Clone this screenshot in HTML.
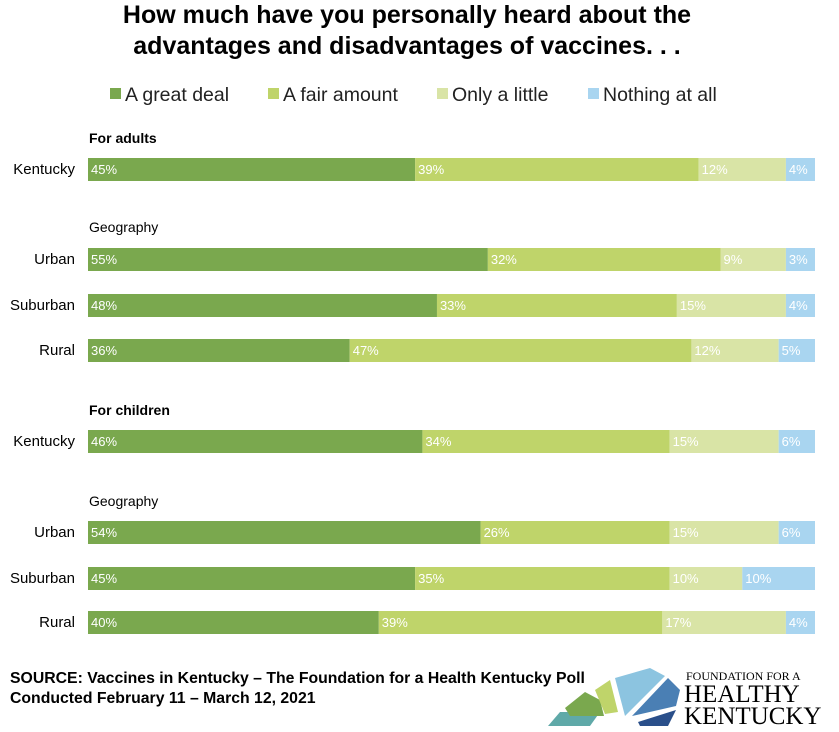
<!DOCTYPE html>
<html><head><meta charset="utf-8"><style>
body{margin:0;background:#fff;font-family:"Liberation Sans",sans-serif;}
#c{position:relative;width:839px;height:732px;overflow:hidden;}
</style></head><body>
<div id="c">
<svg id="s" width="839" height="732">
<text x="407" y="23" text-anchor="middle" font-size="25" font-weight="bold" fill="#000">How much have you personally heard about the</text>
<text x="407" y="54" text-anchor="middle" font-size="25" font-weight="bold" fill="#000">advantages and disadvantages of vaccines. . .</text>
<g id="legend"></g>
<text x="89" y="143" font-size="14" font-weight="bold">For adults</text>
<text x="89" y="232" font-size="14">Geography</text>
<text x="89" y="415" font-size="14" font-weight="bold">For children</text>
<text x="89" y="506" font-size="14">Geography</text>
<g id="bars"></g>
<text x="10" y="683" font-size="15.8" font-weight="bold">SOURCE: Vaccines in Kentucky – The Foundation for a Health Kentucky Poll</text>
<text x="10" y="703" font-size="15.8" font-weight="bold">Conducted February 11 – March 12, 2021</text>
<g>
<polygon points="548,726 560,712 600,712 590,726" fill="#5fa9a8"/>
<polygon points="565,708 585,692 600,700 604,716 570,716" fill="#7aa84e"/>
<polygon points="595,690 610,680 618,712 605,714" fill="#bfd46a"/>
<polygon points="615,678 650,668 665,676 625,716" fill="#8cc4e0"/>
<polygon points="632,716 668,678 680,690 676,706" fill="#4a7fb4"/>
<polygon points="638,722 676,710 668,726 640,726" fill="#2a4f8a"/>
<text x="686" y="680" font-family="Liberation Serif,serif" font-size="12">FOUNDATION FOR A</text>
<text x="684" y="702" font-family="Liberation Serif,serif" font-size="25">HEALTHY</text>
<text x="684" y="724" font-family="Liberation Serif,serif" font-size="25">KENTUCKY</text>
</g>
</svg>
</div>
<script>
const rowLabels=["Kentucky","Urban","Suburban","Rural","Kentucky","Urban","Suburban","Rural"];
const greatDeal=[45,55,48,36,46,54,45,40];
const fairAmount=[39,32,33,47,34,26,35,39];
const onlyLittle=[12,9,15,12,15,15,10,17];
const nothingAtAll=[4,3,4,5,6,6,10,4];
const seriesNames=["A great deal","A fair amount","Only a little","Nothing at all"];
const colors=["#7aa84e","#bfd46a","#d9e4a6","#a9d5f0"];
const rowY=[158,248,294,339,430,521,567,611];
const X0=88,W=727,BH=23;
const xs=v=>v/100*W;
const NS="http://www.w3.org/2000/svg";
const bars=document.getElementById('bars');
const series=[greatDeal,fairAmount,onlyLittle,nothingAtAll];
function mk(tag,attrs,parent){const e=document.createElementNS(NS,tag);for(const k in attrs)e.setAttribute(k,attrs[k]);parent.appendChild(e);return e;}
rowLabels.forEach((lab,i)=>{
  const t=mk('text',{x:75,y:rowY[i]+16,'text-anchor':'end','font-size':15,fill:'#000'},bars);
  t.textContent=lab;
  
  
  let x=X0;
  series.forEach((s,j)=>{
    let w=xs(s[i]);
    if(x+w>X0+W) w=Math.max(0,X0+W-x);
    if(j===series.length-1 && Math.abs(X0+W-(x+w))<xs(3)) w=X0+W-x;
    const r=mk('rect',{x:x,y:rowY[i],width:w,height:BH,fill:colors[j]},bars);
    
    
    const v=mk('text',{x:x+3,y:rowY[i]+16,'font-size':13,fill:'#fff'},bars);
    v.textContent=s[i]+'%';
    
    
    x+=w;
  });
});
const lg=document.getElementById('legend');
const lx=[110,268,437,588];
seriesNames.forEach((n,j)=>{
  const r=mk('rect',{x:lx[j],y:88,width:11,height:11,fill:colors[j]},lg);
  
  
  const t=mk('text',{x:lx[j]+15,y:101,'font-size':19.5,fill:'#222'},lg);
  t.textContent=n;
  
  
});
</script>
</body></html>
